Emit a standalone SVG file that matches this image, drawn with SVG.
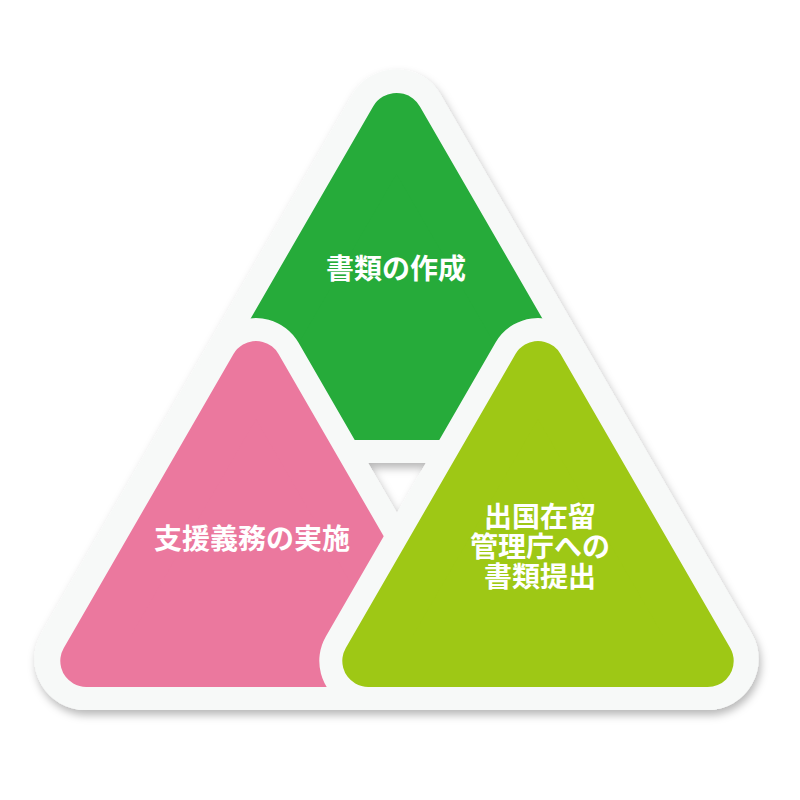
<svg xmlns="http://www.w3.org/2000/svg" width="800" height="800" viewBox="0 0 800 800">
  <defs>
    <filter id="shadow" x="-10%" y="-10%" width="125%" height="130%">
      <feGaussianBlur in="SourceAlpha" stdDeviation="4"/>
      <feOffset dx="2" dy="5" result="b"/>
      <feFlood flood-color="#000" flood-opacity="0.28"/>
      <feComposite in2="b" operator="in"/>
      <feMerge><feMergeNode/><feMergeNode in="SourceGraphic"/></feMerge>
    </filter>
  </defs>
  <style>
    .band{fill:#F7F9F8;stroke:#F7F9F8;stroke-width:98;stroke-linejoin:round}
    .green{fill:#26AB3A;stroke:#26AB3A;stroke-width:54;stroke-linejoin:round}
    .pink{fill:#EB789E;stroke:#EB789E;stroke-width:52;stroke-linejoin:round}
    .yellow{fill:#9EC815;stroke:#9EC815;stroke-width:52;stroke-linejoin:round}
    .label{fill:#FFFFFF;font-family:"Noto Sans CJK JP","Noto Sans CJK SC",sans-serif;font-weight:700;font-size:28px;text-anchor:middle;dominant-baseline:central}
  </style>
  <rect width="800" height="800" fill="#FFFFFF"/>
  <g id="frame">
    <path d="M352.3,94.7 A51,51 0 0 1 440.7,94.7 L751.8,633.5 A51,51 0 0 1 707.6,710 L85.4,710 A51,51 0 0 1 41.2,633.5 Z M368,463 L397,513 L426,463 Z" fill="#F7F9F8" fill-rule="evenodd" filter="url(#shadow)"/>
  </g>
  <g id="node-green">
    <polygon class="green" points="396.5,119.9 227.3,413 565.7,413"/>
    <text class="label" x="396" y="267">書類の作成</text>
  </g>
  <g id="node-pink">
    <polygon class="band" points="256,367 86.3,661 425.7,661"/>
    <polygon class="pink" points="256,367 86.3,661 425.7,661"/>
    <text class="label" x="252" y="537">支援義務の実施</text>
  </g>
  <g id="node-yellow">
    <polygon class="band" points="538,367 368.3,661 707.7,661"/>
    <polygon class="yellow" points="538,367 368.3,661 707.7,661"/>
    <text class="label" x="540" y="515"><tspan x="540" y="515">出国在留</tspan><tspan x="540" y="545">管理庁への</tspan><tspan x="540" y="575">書類提出</tspan></text>
  </g>
  <g id="connectors"></g>
</svg>
